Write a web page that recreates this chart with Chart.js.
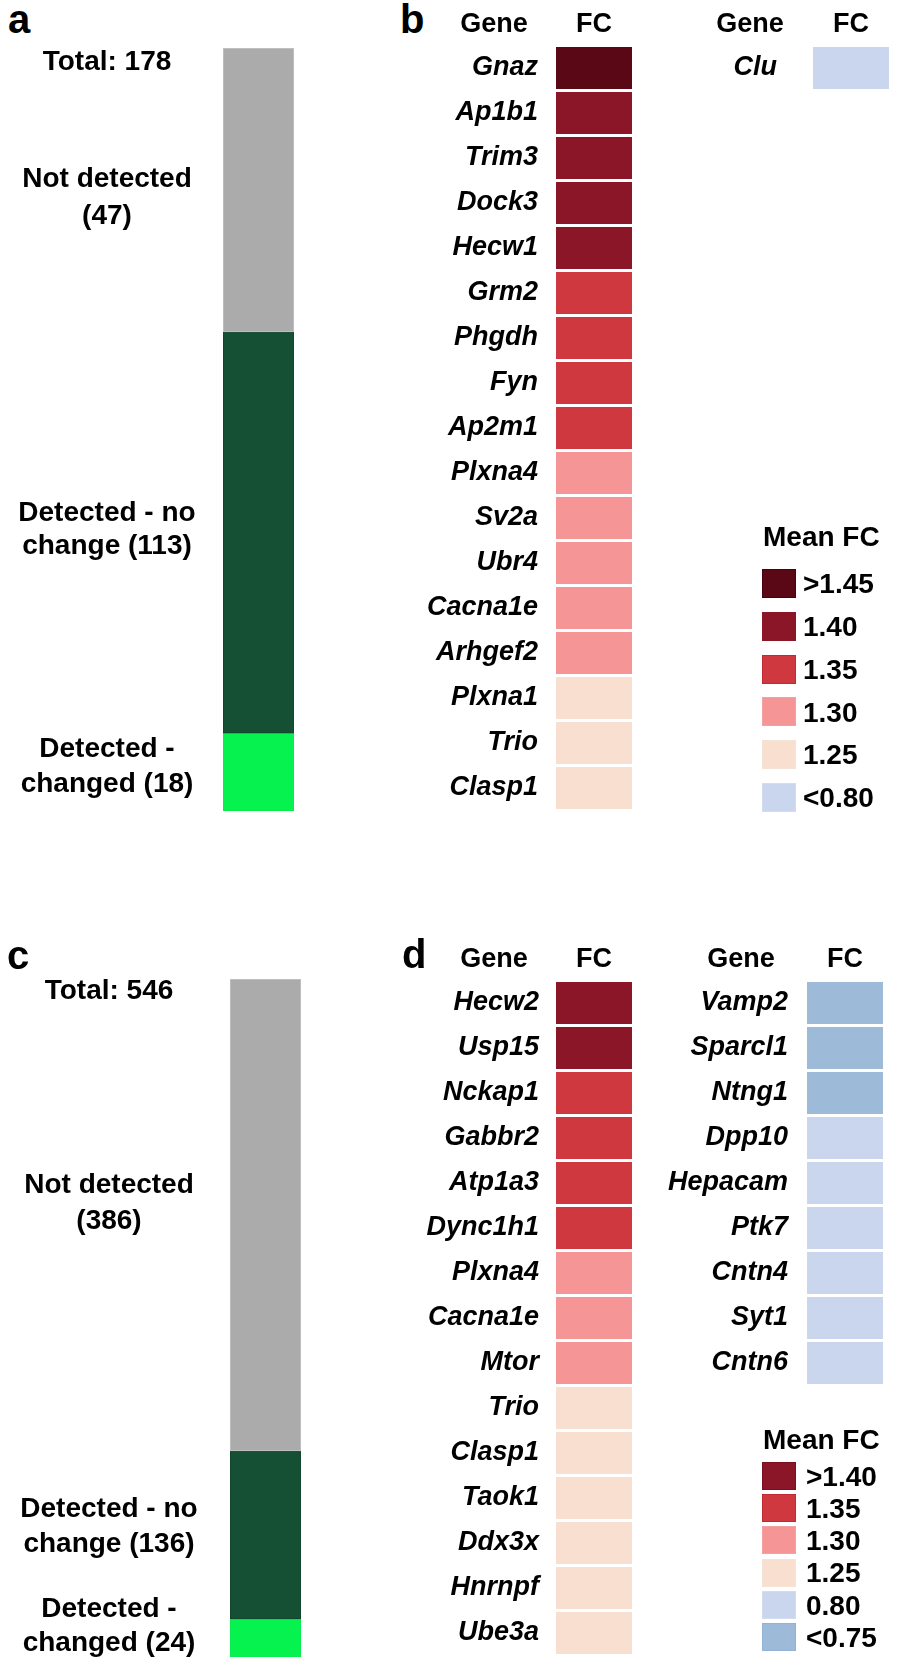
<!DOCTYPE html>
<html>
<head>
<meta charset="utf-8">
<script src="https://cdn.jsdelivr.net/npm/chart.js@4.4.1/dist/chart.umd.min.js"></script>
<style>
  body { margin: 0; width: 900px; height: 1669px; overflow: hidden; background: #fff; position: relative;
         font-family: "Liberation Sans", Arial, sans-serif; font-weight: bold; color: #000; }
  canvas { position: absolute; top: 0; }
  .t { position: absolute; white-space: nowrap; line-height: 1; }
  .sw { position: absolute; box-sizing: border-box; border: 1px solid; }
</style>
</head>
<body>
<script>
// panels a / c : gene categories
const groupLines = [['Not detected', '(#)'], ['Detected - no', 'change (#)'], ['Detected -', 'changed (#)']];
const groupColors = ['#ababab', '#155034', '#05f24f'];
const groupBorders = ['#c6c6c6', '#10432b', '#0ce853'];
const totalA = 178;
const countsA = [47, 113, 18];
const shareA = [37.2, 52.6, 10.2];   // segment lengths as drawn, % of bar
const totalC = 546;
const countsC = [386, 136, 24];
const shareC = [69.6, 24.8, 5.6];

// panels b / d : fold change bins
const genesB = ['Gnaz', 'Ap1b1', 'Trim3', 'Dock3', 'Hecw1', 'Grm2', 'Phgdh', 'Fyn', 'Ap2m1',
  'Plxna4', 'Sv2a', 'Ubr4', 'Cacna1e', 'Arhgef2', 'Plxna1', 'Trio', 'Clasp1'];
const binsB = ['>1.45', '1.40', '1.40', '1.40', '1.40', '1.35', '1.35', '1.35', '1.35',
  '1.30', '1.30', '1.30', '1.30', '1.30', '1.25', '1.25', '1.25'];
const genesB2 = ['Clu'];
const binsB2 = ['<0.80'];
const genesD = ['Hecw2', 'Usp15', 'Nckap1', 'Gabbr2', 'Atp1a3', 'Dync1h1', 'Plxna4', 'Cacna1e',
  'Mtor', 'Trio', 'Clasp1', 'Taok1', 'Ddx3x', 'Hnrnpf', 'Ube3a'];
const binsD = ['>1.40', '>1.40', '1.35', '1.35', '1.35', '1.35', '1.30', '1.30',
  '1.30', '1.25', '1.25', '1.25', '1.25', '1.25', '1.25'];
const genesD2 = ['Vamp2', 'Sparcl1', 'Ntng1', 'Dpp10', 'Hepacam', 'Ptk7', 'Cntn4', 'Syt1', 'Cntn6'];
const binsD2 = ['<0.75', '<0.75', '<0.75', '0.80', '0.80', '0.80', '0.80', '0.80', '0.80'];
const legendB = ['>1.45', '1.40', '1.35', '1.30', '1.25', '<0.80'];
const legendD = ['>1.40', '1.35', '1.30', '1.25', '0.80', '<0.75'];

const binColors = {
  '>1.45': '#5a0816', '>1.40': '#8b1628', '1.40': '#8b1628', '1.35': '#d0383f',
  '1.30': '#f59596', '1.25': '#f9dfd0', '0.80': '#c9d6ed', '<0.80': '#c9d6ed', '<0.75': '#9ebad9'
};
const binBorders = {
  '>1.45': '#4a0010', '>1.40': '#7a0f20', '1.35': '#c22a31', '1.30': '#f3a2a3',
  '1.25': '#f6e3d8', '0.80': '#d3ddef', '<0.80': '#d3ddef', '<0.75': '#93b2d5'
};

const PAGE_H = 1669;
const FONT = '"Liberation Sans", Arial, sans-serif';
const ROW = 45, CELL_W = 76;

function text(str, x, baseline, size, align, italic) {
  const d = document.createElement('div');
  d.className = 't';
  d.textContent = str;
  d.style.fontSize = size + 'px';
  d.style.left = x + 'px';
  d.style.top = (baseline - 0.8465 * size) + 'px';
  if (italic) d.style.fontStyle = 'italic';
  if (align === 'center') d.style.transform = 'translateX(-50%)';
  if (align === 'right') d.style.transform = 'translateX(-100%)';
  document.body.appendChild(d);
}

function makeCanvas(left, width) {
  const c = document.createElement('canvas');
  c.width = width;
  c.height = PAGE_H;
  c.style.left = left + 'px';
  c.style.width = width + 'px';
  c.style.height = PAGE_H + 'px';
  document.body.appendChild(c);
  return c;
}

function stackBar(shares, box) {
  const canvas = makeCanvas(0, box.width);
  new Chart(canvas, {
    type: 'bar',
    data: {
      labels: [''],
      datasets: shares.map((v, i) => ({
        data: [v], backgroundColor: groupColors[i], borderColor: groupBorders[i],
        borderWidth: 1, borderSkipped: false, barPercentage: 1, categoryPercentage: 1
      }))
    },
    options: {
      responsive: false, animation: false,
      layout: { padding: { left: box.left, right: box.width - box.right, top: box.top, bottom: PAGE_H - box.bottom } },
      scales: {
        x: { display: false, stacked: true },
        y: { display: false, stacked: true, min: 0, max: 100, reverse: true }
      },
      plugins: { legend: { display: false }, tooltip: { enabled: false } }
    }
  });
}

function heatmap(genes, bins, box) {
  const canvas = makeCanvas(box.left, box.width);
  new Chart(canvas, {
    type: 'bar',
    data: {
      labels: genes,
      datasets: [{
        data: genes.map(() => [0, 1]),
        backgroundColor: bins.map(b => binColors[b]),
        barPercentage: 42 / ROW, categoryPercentage: 1
      }]
    },
    options: {
      indexAxis: 'y', responsive: false, animation: false,
      layout: { padding: { left: 0, right: box.width - box.labelW - CELL_W, top: box.top,
                           bottom: PAGE_H - box.top - genes.length * ROW } },
      scales: {
        x: { display: false, min: 0, max: 1 },
        y: {
          grid: { display: false, drawTicks: false }, border: { display: false },
          ticks: { autoSkip: false, padding: box.pad, color: '#000',
                   font: { family: FONT, size: 27, weight: 'bold', style: 'italic' } },
          afterFit(s) { s.width = box.labelW; s.paddingTop = 0; s.paddingBottom = 0; }
        }
      },
      plugins: { legend: { display: false }, tooltip: { enabled: false } }
    }
  });
  const cellLeft = box.left + box.labelW;
  text('Gene', cellLeft - box.geneDx, box.top - 13, 27, 'center');
  text('FC', cellLeft + CELL_W / 2, box.top - 13, 27, 'center');
}

function groupLabels(total, counts, cx, totalBase, baselines) {
  text('Total: ' + total, cx, totalBase, 28, 'center');
  groupLines.forEach((lines, i) => {
    lines.forEach((ln, j) => text(ln.replace('#', counts[i]), cx, baselines[i][j], 28, 'center'));
  });
}

function legend(bins, x, titleBase, top, pitch, h, textX) {
  text('Mean FC', x + 1, titleBase, 28, 'left');
  bins.forEach((b, i) => {
    const y = top + i * pitch;
    const s = document.createElement('div');
    s.className = 'sw';
    s.style.cssText = `left:${x}px;top:${y}px;width:34px;height:${h}px;background:${binColors[b]};border-color:${binBorders[b] || binColors[b]}`;
    document.body.appendChild(s);
    text(b, textX, y + h / 2 + 10.5, 28, 'left');
  });
}

// a
text('a', 8, 33, 40, 'left');
stackBar(shareA, { width: 300, left: 223, right: 294, top: 48, bottom: 811 });
groupLabels(totalA, countsA, 107, 71, [[188, 225], [522, 555], [758, 793]]);

// b
text('b', 400, 33, 40, 'left');
heatmap(genesB, binsB, { left: 380, width: 256, labelW: 176, pad: 18, top: 45.5, geneDx: 62 });
heatmap(genesB2, binsB2, { left: 640, width: 250, labelW: 173, pad: 36, top: 45.5, geneDx: 63 });
legend(legendB, 762, 547, 569, 42.8, 29, 803);

// c
text('c', 7, 969, 40, 'left');
stackBar(shareC, { width: 310, left: 230, right: 301, top: 979, bottom: 1657 });
groupLabels(totalC, countsC, 109, 1000, [[1194, 1230], [1518, 1553], [1618, 1652]]);

// d
text('d', 402, 968, 40, 'left');
heatmap(genesD, binsD, { left: 380, width: 256, labelW: 176, pad: 17, top: 980.5, geneDx: 62 });
heatmap(genesD2, binsD2, { left: 640, width: 250, labelW: 167, pad: 19, top: 980.5, geneDx: 66 });
legend(legendD, 762, 1450, 1462, 32.2, 28, 806);
</script>
</body>
</html>
